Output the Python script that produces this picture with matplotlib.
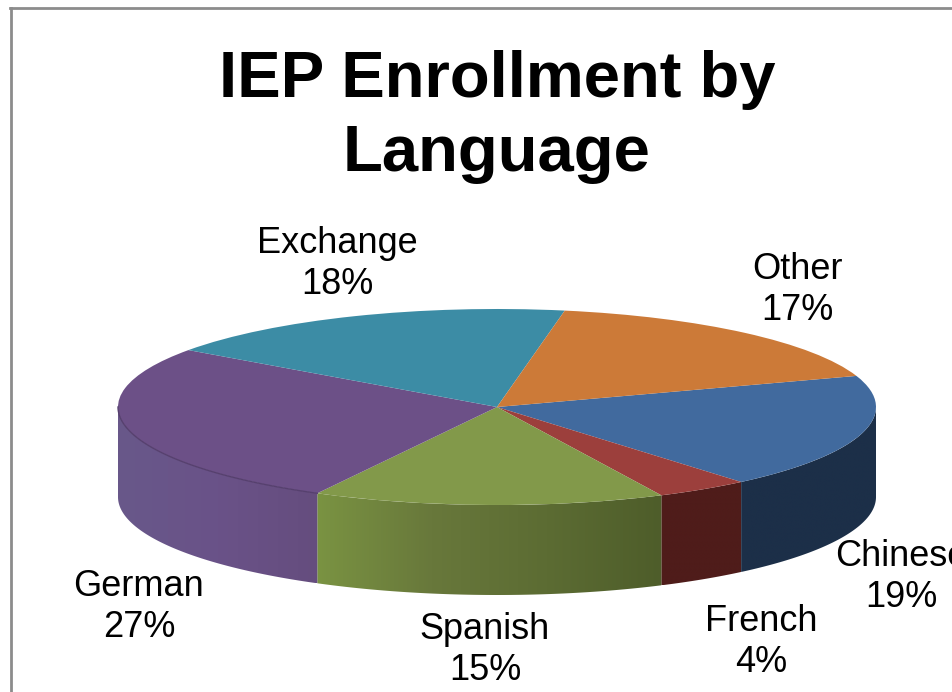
import matplotlib
matplotlib.use('Agg')
import matplotlib.pyplot as plt
from matplotlib.colors import to_rgb
from matplotlib.lines import Line2D
from matplotlib.patches import Polygon
import numpy as np

W, H = 953, 692

title = 'IEP Enrollment by\nLanguage'
languages = ['Chinese', 'French', 'Spanish', 'German', 'Exchange', 'Other']
shares = [19, 4, 15, 27, 18, 17]
top_colors = ['#416A9E', '#9C3F3C', '#82994A', '#6C5087', '#3C8CA5', '#CC7A38']
# side wall colours, from the clockwise start of each slice to its end
side_colors = [['#1C2F48', '#1C2F48'], ['#4F1C1A', '#4F1C1A'], ['#4E5D2A', '#5C6C33', '#68783B', '#7A9342'],
               ['#654D7E', '#6A5288', '#68588A'], ['#3C8CA5', '#3C8CA5'], ['#CC7A38', '#CC7A38']]
label_centers = [(901, 577), (761, 642), (485, 650), (139, 607), (337, 264), (797, 290)]

# pie geometry in pixels
cx, cy, rx, ry, depth = 497, 407, 379, 98, 90
start = 18.5

plt.rcParams['font.family'] = ['Liberation Sans', 'DejaVu Sans']

fig = plt.figure(figsize=(W / 100, H / 100), dpi=100, facecolor='white')
ax = fig.add_axes([0, 0, 1, 1])
ax.pie(shares, colors=top_colors, startangle=start, counterclock=False, radius=1,
       wedgeprops={'linewidth': 0, 'zorder': 5})

# side wall, only the front half of the ellipse shows
d = depth / ry
bounds = start - np.cumsum([0] + shares) * 3.6
for i in range(len(shares)):
    a = min(bounds[i], 0)
    b = max(bounds[i + 1], -180)
    if a <= b:
        continue
    q = np.radians(np.linspace(a, b, 80))
    outline = np.vstack([np.column_stack([np.cos(q), np.sin(q)]),
                         np.column_stack([np.cos(q[::-1]), np.sin(q[::-1]) - d])])
    # gradient runs left to right, so the clockwise stops are flipped
    rgb = np.array([to_rgb(c) for c in side_colors[i]])[::-1]
    grad = np.array([[np.interp(f, np.linspace(0, 1, len(rgb)), rgb[:, k]) for k in range(3)]
                     for f in np.linspace(0, 1, 256)])
    im = ax.imshow(grad[np.newaxis, :, :], aspect='auto', interpolation='bilinear', zorder=2,
                   extent=(outline[:, 0].min(), outline[:, 0].max(), outline[:, 1].min(), outline[:, 1].max()))
    im.set_clip_path(Polygon(outline, transform=ax.transData))

ax.set_aspect('auto')
ax.set_xlim(-cx / rx, (W - cx) / rx)
ax.set_ylim(-(H - cy) / ry, cy / ry)
ax.axis('off')

# dark seam under the rim of the german slice
q = np.radians(np.linspace(bounds[3], -180, 60))
ax.plot(np.cos(q), np.sin(q), color='#56406E', lw=1, zorder=6)


def px(x, y):
    return x / W, 1 - y / H


fig.text(*px(497, 117), title, ha='center', va='center', fontsize=47, fontweight='bold', linespacing=1.29)
for name, share, (x, y) in zip(languages, shares, label_centers):
    fig.text(*px(x, y), f'{name}\n{share}%', ha='center', va='center', fontsize=26, linespacing=1.2)

# chart border, cut off by the screenshot
frame = '#8C8C8C'
fig.add_artist(Line2D([11 / W, 11 / W], [0, 1 - 8 / H], color=frame, lw=2))
fig.add_artist(Line2D([10 / W, 1], [1 - 8 / H, 1 - 8 / H], color=frame, lw=2))

fig.savefig('out.png', dpi=100)
